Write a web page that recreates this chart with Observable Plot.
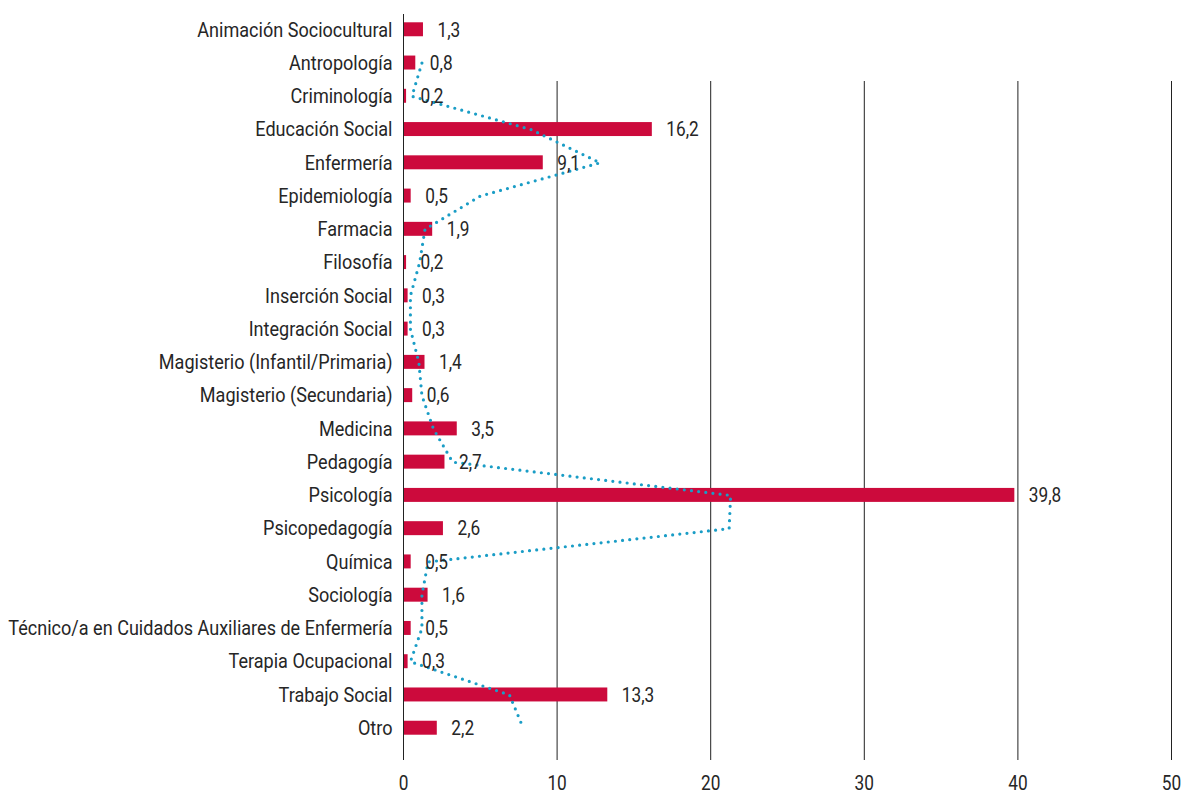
<!DOCTYPE html>
<html>
<head>
<meta charset="utf-8">
<script src="https://cdn.jsdelivr.net/npm/d3@7"></script>
<script src="https://cdn.jsdelivr.net/npm/@observablehq/plot@0.6"></script>
<style>
  html, body { margin: 0; padding: 0; background: #fff; }
  #chart { width: 1198px; height: 804px; }
</style>
</head>
<body>
<div id="chart"></div>
<script>
const categories = [
  "Animación Sociocultural", "Antropología", "Criminología", "Educación Social",
  "Enfermería", "Epidemiología", "Farmacia", "Filosofía", "Inserción Social",
  "Integración Social", "Magisterio (Infantil/Primaria)", "Magisterio (Secundaria)",
  "Medicina", "Pedagogía", "Psicología", "Psicopedagogía", "Química", "Sociología",
  "Técnico/a en Cuidados Auxiliares de Enfermería", "Terapia Ocupacional",
  "Trabajo Social", "Otro"
];
const barValues = [1.3, 0.8, 0.2, 16.2, 9.1, 0.5, 1.9, 0.2, 0.3, 0.3, 1.4, 0.6, 3.5, 2.7, 39.8, 2.6, 0.5, 1.6, 0.5, 0.3, 13.3, 2.2];
const lineValues = [null, 1.2, 0.55, 8.3, 12.8, 5.0, 1.4, 1.05, 0.45, 0.45, 1.0, 1.2, 1.95, 3.2, 21.3, 21.2, 1.6, 1.2, 1.2, 0.45, 6.9, 7.8];
const xTicks = [0, 10, 20, 30, 40, 50];
const gridTicks = [10, 20, 30, 40, 50];

const bars = categories.map((c, i) => ({cat: c, v: barValues[i]}));
const line = categories.map((c, i) => ({cat: c, v: lineValues[i]})).filter(d => d.v != null);
const fmt = v => String(v.toFixed(1)).replace(".", ",");

const chart = Plot.plot({
  width: 1198,
  height: 804,
  marginLeft: 403,
  marginRight: 27,
  marginTop: 3,
  marginBottom: 50,
  style: {fontSize: "21px", color: "#262626", background: "#fff", fontFamily: "Roboto, sans-serif", fontWeight: 400},
  x: {domain: [0, 50], ticks: xTicks, label: null, tickSize: 6, tickPadding: 15},
  y: {domain: categories, padding: 0.58, round: false, label: null, tickSize: 0, tickPadding: 11},
  marks: [
    Plot.ruleX(gridTicks, {stroke: "#222", strokeWidth: 1, insetTop: 78}),
    Plot.barX(bars, {x: "v", y: "cat", fill: "#cc0a3c"}),
    Plot.ruleX([0], {stroke: "#222", strokeWidth: 1, insetTop: 11}),
    Plot.line(line, {x: "v", y: "cat", stroke: "#1a9dc6", strokeWidth: 3.2, strokeDasharray: "0 7.2", strokeLinecap: "round"}),
    Plot.text(bars, {x: "v", y: "cat", text: d => fmt(d.v), dx: 14, textAnchor: "start", fill: "#262626", fontSize: 21}),
    Plot.axisX({ticks: xTicks, tickSize: 6, tickPadding: 15, label: null, stroke: "#222"}),
    Plot.axisY({tickSize: 0, tickPadding: 11, label: null})
  ]
});
document.getElementById("chart").appendChild(chart);
// mimic the condensed typeface of the reference
chart.querySelectorAll("text").forEach(el => {
  const L = el.getComputedTextLength();
  if (L > 0) {
    const isNum = /^[0-9,]+$/.test(el.textContent.trim());
    el.setAttribute("textLength", (L * (isNum ? 0.82 : 0.86)).toFixed(1));
    el.setAttribute("lengthAdjust", "spacingAndGlyphs");
  }
});
</script>
</body>
</html>
